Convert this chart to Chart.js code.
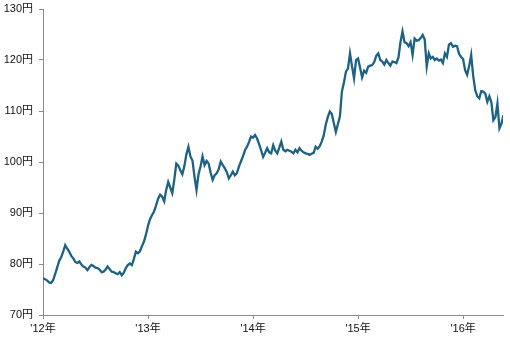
<!DOCTYPE html>
<html>
<head>
<meta charset="utf-8">
<script src="https://cdn.jsdelivr.net/npm/chart.js@4"></script>
<style>
  html, body { margin: 0; padding: 0; background: #fff; }
  #wrap { width: 510px; height: 341px; }
</style>
</head>
<body>
<div id="wrap"><canvas id="fxChart" width="510" height="341"></canvas></div>
<script>
// --- USD/JPY weekly values (円) ---
var years = [2012, 2013, 2014, 2015, 2016];
var yearLabels = ["'12年", "'13年", "'14年", "'15年", "'16年"];
var yTicks = [70, 80, 90, 100, 110, 120, 130];

var w2012 = [77.2, 77.0, 76.8, 76.4, 76.3, 76.8, 78.0, 79.3, 80.6, 81.3, 82.4, 83.7, 83.0,
             82.4, 81.6, 81.1, 80.4, 80.2, 80.5, 79.9, 79.5, 79.3, 78.8, 79.4, 79.8, 79.6,
             79.3, 79.2, 78.9, 78.4, 78.5, 78.9, 79.5, 79.0, 78.5, 78.4, 78.2, 78.0, 78.4,
             77.8, 78.3, 79.2, 79.8, 80.1, 79.8, 81.0, 82.4, 82.1, 82.5, 83.5, 84.4, 85.8];
var w2013 = [87.5, 88.8, 89.6, 90.3, 91.5, 92.8, 93.6, 93.2, 92.3, 94.5, 96.1, 95.0, 93.9,
             96.5, 99.7, 99.3, 98.4, 97.6, 99.2, 101.5, 103.0, 101.1, 100.3, 97.2, 94.5, 97.6,
             99.1, 101.1, 99.4, 100.2, 99.7, 97.9, 96.5, 97.4, 97.8, 98.6, 100.1, 99.4, 98.8,
             98.0, 96.8, 97.4, 98.1, 97.4, 97.8, 99.1, 100.1, 101.1, 102.3, 103.0, 103.9, 105.0];
var w2014 = [104.8, 105.3, 104.6, 103.5, 102.3, 101.0, 101.8, 102.7, 101.9, 101.7, 103.3, 102.2, 101.7,
             102.8, 104.0, 102.4, 102.1, 102.4, 102.2, 102.0, 101.7, 102.4, 101.9, 102.7, 102.2, 101.9,
             101.7, 101.6, 101.4, 101.6, 101.8, 103.0, 102.6, 103.1, 104.0, 105.2, 107.3, 108.8, 109.9,
             109.4, 107.6, 105.9, 107.4, 108.9, 113.8, 115.6, 117.7, 118.3, 121.3, 118.8, 116.4, 120.0];
var w2015 = [120.3, 118.5, 116.6, 117.9, 117.5, 118.7, 118.9, 119.0, 119.6, 120.8, 121.3, 120.0, 119.7,
             119.1, 120.0, 119.4, 118.9, 119.7, 119.6, 119.4, 120.5, 123.5, 125.6, 123.5, 123.3, 122.7,
             123.5, 121.0, 124.2, 123.8, 123.9, 124.3, 124.9, 124.0, 118.7, 121.3, 120.3, 120.6, 120.0,
             120.3, 119.9, 120.1, 119.4, 121.3, 120.6, 123.0, 123.3, 122.6, 122.8, 122.7, 121.2, 120.6];
var w2016 = [120.2, 118.0, 117.1, 118.8, 121.0, 116.9, 114.1, 112.9, 112.5, 113.9, 113.8, 113.4,
             111.8, 112.9, 111.7, 108.2, 108.8, 111.5, 106.6, 107.5, 109.2];

var weekly = [w2012, w2013, w2014, w2015, w2016];

// weekly values -> {x: decimal year, y: price}
var points = [];
weekly.forEach(function (vals, k) {
    vals.forEach(function (v, i) {
        points.push({ x: years[k] + i / 52, y: v });
    });
});

var axisGrey = '#8c8c8c';
var font = { family: 'Arial, "Liberation Sans", "Noto Sans CJK JP", sans-serif', size: 11 };

new Chart(document.getElementById('fxChart').getContext('2d'), {
    type: 'line',
    data: {
        datasets: [{
            data: points,
            borderColor: '#1d6283',
            borderWidth: 2.3,
            pointRadius: 0,
            tension: 0,
            fill: false
        }]
    },
    options: {
        responsive: false,
        animation: false,
        layout: { padding: { top: 9, right: 7, left: 0, bottom: 0 } },
        plugins: { legend: { display: false }, tooltip: { enabled: false } },
        scales: {
            x: {
                type: 'linear',
                min: 2012,
                max: 2016.38,
                afterBuildTicks: function (s) { s.ticks = years.map(function (v) { return { value: v }; }); },
                afterFit: function (s) { s.height = 26; s.paddingLeft = 0; s.paddingRight = 0; },
                grid: { drawOnChartArea: false, color: axisGrey, tickLength: 4 },
                border: { color: axisGrey, width: 1 },
                ticks: {
                    color: '#111',
                    font: font,
                    padding: 3,
                    maxRotation: 0,
                    autoSkip: false,
                    callback: function (v) { return yearLabels[years.indexOf(v)]; }
                }
            },
            y: {
                min: 70,
                max: 130,
                afterBuildTicks: function (s) { s.ticks = yTicks.map(function (v) { return { value: v }; }); },
                afterFit: function (s) { s.width = 43; s.paddingTop = 0; s.paddingBottom = 0; },
                grid: { drawOnChartArea: false, color: axisGrey, tickLength: 4 },
                border: { color: axisGrey, width: 1 },
                ticks: {
                    color: '#111',
                    font: font,
                    padding: 6,
                    callback: function (v) { return v + '円'; }
                }
            }
        }
    }
});
</script>
</body>
</html>
